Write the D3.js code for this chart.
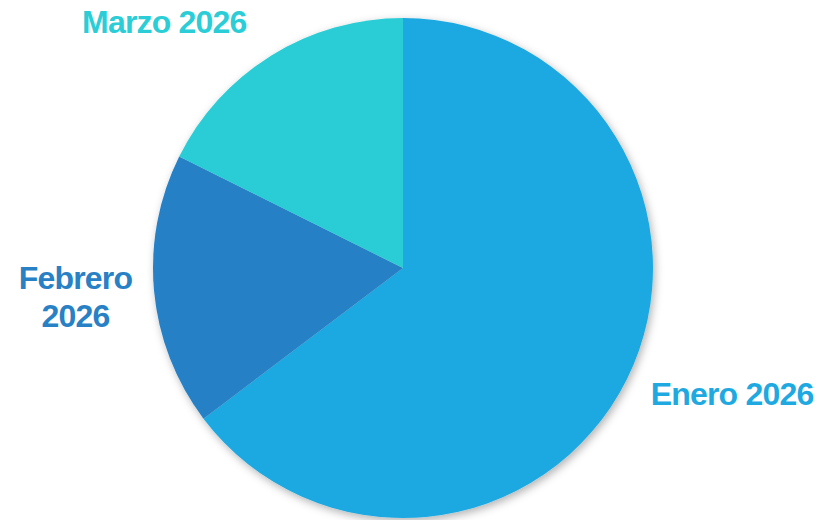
<!DOCTYPE html>
<html>
<head>
<meta charset="utf-8">
<script src="https://cdn.jsdelivr.net/npm/d3@7/dist/d3.min.js"></script>
<style>
  html, body { margin: 0; padding: 0; background: #fff; }
  #chart { width: 838px; height: 520px; }
  text { font-family: "Liberation Sans", Arial, sans-serif; font-weight: bold; }
</style>
</head>
<body>
<div id="chart"></div>
<script>
// Data
const months = ['Enero 2026', 'Febrero 2026', 'Marzo 2026'];
const values = [11, 3, 3];
const colors = ['#1fa9e1', '#2880c5', '#2bcdd6'];

const width = 838, height = 520;
const cx = 403, cy = 268, radius = 250;

const svg = d3.select('#chart').append('svg')
  .attr('width', width)
  .attr('height', height);

// soft shadow under the pie
const defs = svg.append('defs');
const filter = defs.append('filter')
  .attr('id', 'shadow')
  .attr('x', '-20%').attr('y', '-20%')
  .attr('width', '140%').attr('height', '140%');
filter.append('feDropShadow')
  .attr('dx', 2).attr('dy', 3)
  .attr('stdDeviation', 4)
  .attr('flood-color', '#000')
  .attr('flood-opacity', 0.3);

const g = svg.append('g').attr('transform', `translate(${cx},${cy})`);

const data = months.map((m, i) => ({ label: m, value: values[i], color: colors[i] }));

const pie = d3.pie().sort(null).value(d => d.value);
const arcs = pie(data);

const arc = d3.arc().innerRadius(0).outerRadius(radius);
const labelArc = d3.arc().innerRadius(280).outerRadius(280);

g.append('g')
  .attr('filter', 'url(#shadow)')
  .selectAll('path')
  .data(arcs)
  .enter()
  .append('path')
  .attr('d', arc)
  .attr('fill', d => d.data.color);

// Labels outside the slices
const fontSize = 32;
// small hand nudges so the labels sit where the reference has them
const nudge = [[-3, 1], [8, 2.5], [-9, -8]];

arcs.forEach((d, idx) => {
  let [x, y] = labelArc.centroid(d);
  x += nudge[idx][0];
  y += nudge[idx][1];
  const mid = (d.startAngle + d.endAngle) / 2;
  const right = mid < Math.PI;
  const t = g.append('text')
    .attr('fill', d.data.color)
    .style('font-size', fontSize + 'px')
    .style('letter-spacing', '-0.8px');

  t.text(d.data.label);
  const w = t.node().getComputedTextLength();
  const room = right ? (width - cx - x) : (cx + x);

  if (w <= room) {
    t.attr('x', x)
      .attr('y', y + fontSize * 0.36)
      .attr('text-anchor', right ? 'start' : 'end');
  } else {
    // wrap into two lines, centred in a block ending at the anchor
    const parts = d.data.label.split(' ');
    t.text('');
    const lines = [parts.slice(0, -1).join(' '), parts[parts.length - 1]];
    const widths = lines.map(l => {
      const s = t.append('tspan').text(l);
      return s.node().getComputedTextLength();
    });
    t.selectAll('tspan').remove();
    const blockW = d3.max(widths);
    const bx = right ? x + blockW / 2 : x - blockW / 2;
    const lh = 38;
    lines.forEach((l, i) => {
      t.append('tspan')
        .attr('x', bx)
        .attr('y', y + fontSize * 0.36 + (i - (lines.length - 1) / 2) * lh)
        .attr('text-anchor', 'middle')
        .text(l);
    });
  }
});
</script>
</body>
</html>
